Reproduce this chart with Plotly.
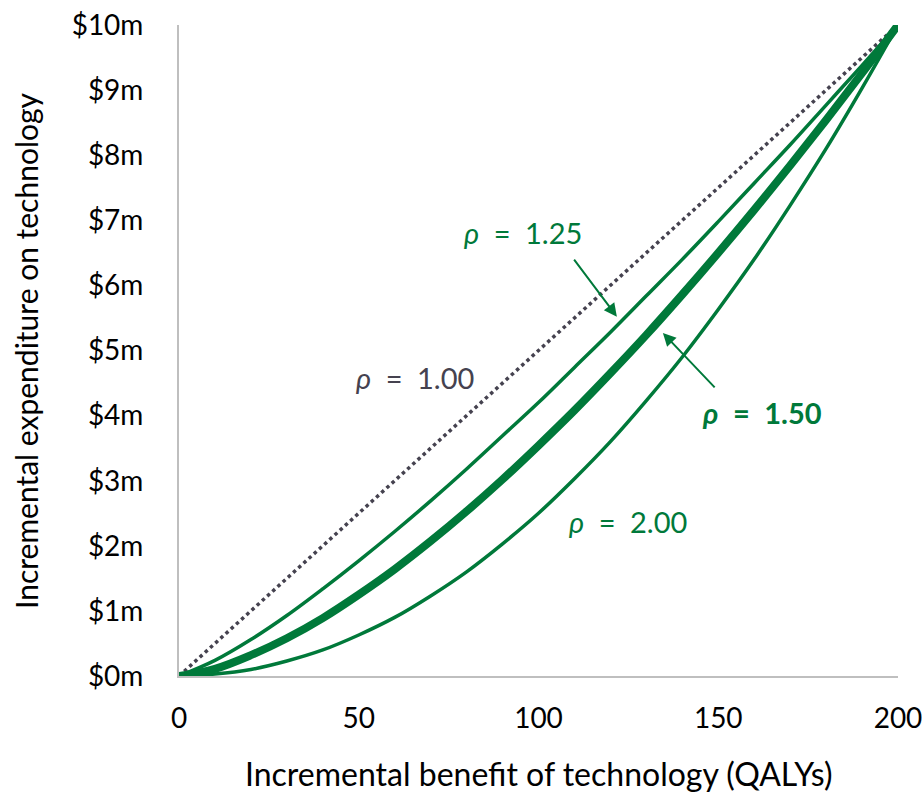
import plotly.graph_objects as go

# QALYs (x) and incremental expenditure in $m (y)
qalys = [0, 10, 20, 30, 40, 50, 60, 70, 80, 90, 100,
         110, 120, 130, 140, 150, 160, 170, 180, 190, 200]
rho_100_x = [0, 200]
rho_100_y = [0, 10]
rho_125 = [0, 0.24, 0.56, 0.93, 1.34, 1.77, 2.22, 2.69, 3.18, 3.69, 4.20,
           4.74, 5.28, 5.84, 6.40, 6.98, 7.57, 8.16, 8.77, 9.38, 10]
rho_150 = [0, 0.11, 0.32, 0.58, 0.89, 1.25, 1.64, 2.07, 2.53, 3.02, 3.54,
           4.08, 4.65, 5.24, 5.86, 6.50, 7.16, 7.84, 8.54, 9.26, 10]
rho_200 = [0, 0.03, 0.10, 0.23, 0.40, 0.63, 0.90, 1.23, 1.60, 2.03, 2.50,
           3.03, 3.60, 4.23, 4.90, 5.63, 6.40, 7.23, 8.10, 9.03, 10]

x_ticks = [0, 50, 100, 150, 200]
y_ticks = list(range(0, 11))
y_tick_text = [f"${v}m" for v in y_ticks]

GREEN = "#00793A"
GREY = "#45424F"
FONT = "Lato"
SP = "\u2002"

fig = go.Figure()
fig.add_trace(go.Scatter(x=rho_100_x, y=rho_100_y, mode="lines",
                         line=dict(color=GREY, width=3.5, dash="dot")))
fig.add_trace(go.Scatter(x=qalys, y=rho_125, mode="lines",
                         line=dict(color=GREEN, width=3.5, shape="spline")))
fig.add_trace(go.Scatter(x=qalys, y=rho_200, mode="lines",
                         line=dict(color=GREEN, width=3.5, shape="spline")))
fig.add_trace(go.Scatter(x=qalys, y=rho_150, mode="lines",
                         line=dict(color=GREEN, width=8, shape="spline")))

ann_font = dict(family=FONT, size=29, color=GREEN)
fig.add_annotation(x=95.7, y=6.82, text=f"<i>ρ</i>{SP}={SP}1.25", showarrow=False, font=ann_font)
fig.add_annotation(x=65.6, y=4.58, text=f"<i>ρ</i>{SP}={SP}1.00", showarrow=False,
                   font=dict(family=FONT, size=29, color=GREY))
fig.add_annotation(x=162.2, y=4.05, text=f"<b><i>ρ</i>{SP}={SP}1.50</b>", showarrow=False, font=ann_font)
fig.add_annotation(x=124.9, y=2.37, text=f"<i>ρ</i>{SP}={SP}2.00", showarrow=False, font=ann_font)

# arrows
fig.add_annotation(x=121.8, y=5.52, ax=109.6, ay=6.42, xref="x", yref="y",
                   axref="x", ayref="y", text="", showarrow=True,
                   arrowhead=2, arrowsize=1.3, arrowwidth=2, arrowcolor=GREEN)
fig.add_annotation(x=134.6, y=5.27, ax=149.4, ay=4.41, xref="x", yref="y",
                   axref="x", ayref="y", text="", showarrow=True,
                   arrowhead=2, arrowsize=1.3, arrowwidth=2, arrowcolor=GREEN)

# axis titles
fig.add_annotation(text="Incremental benefit of technology (QALYs)",
                   xref="paper", yref="paper", x=0.5, y=-0.1505,
                   showarrow=False, font=dict(family=FONT, size=32, color="#000"),
                   xanchor="center", yanchor="middle")
fig.add_annotation(text="Incremental expenditure on technology",
                   xref="paper", yref="paper", x=-0.2128, y=(676 - 350) / 651,
                   textangle=-90, showarrow=False,
                   font=dict(family=FONT, size=30, color="#000"),
                   xanchor="center", yanchor="middle")

fig.update_layout(
    width=922, height=793,
    margin=dict(l=179, r=24, t=25, b=117, autoexpand=False),
    paper_bgcolor="white", plot_bgcolor="white",
    showlegend=False,
    font=dict(family=FONT, size=24, color="#000000"),
    xaxis=dict(range=[0, 200], tickvals=x_ticks, showgrid=False, zeroline=False,
               showline=True, linecolor="#BFBFBF", linewidth=2, automargin=False,
               ticks="outside", ticklen=16, tickcolor="rgba(0,0,0,0)",
               ticklabeloverflow="allow", tickfont=dict(size=28)),
    yaxis=dict(range=[0, 10], tickvals=y_ticks, ticktext=y_tick_text,
               showgrid=False, zeroline=False, automargin=False,
               showline=True, linecolor="#BFBFBF", linewidth=2,
               ticks="outside", ticklen=28, tickcolor="rgba(0,0,0,0)",
               ticklabeloverflow="allow", tickfont=dict(size=28)),
)

fig.write_html("out.html", config={"displayModeBar": False},
               post_script="document.body.style.margin='0';document.body.style.overflow='hidden';")
